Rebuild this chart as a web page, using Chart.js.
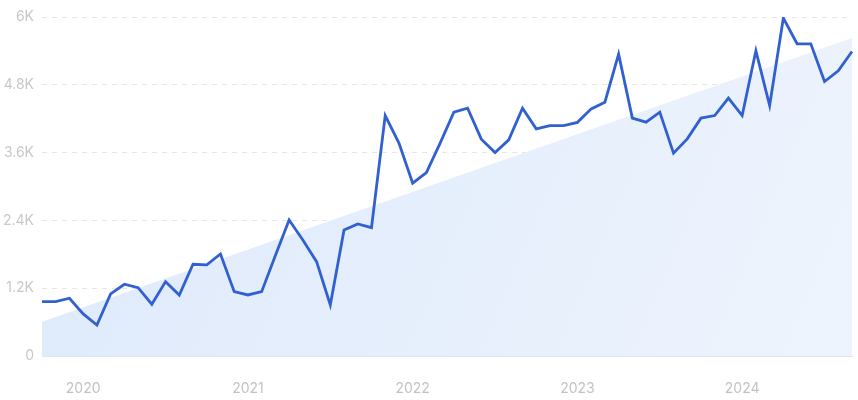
<!DOCTYPE html>
<html>
<head>
<meta charset="utf-8">
<script src="https://cdn.jsdelivr.net/npm/chart.js@4"></script>
<style>
  html, body { margin: 0; padding: 0; background: #fff; }
  #wrap { width: 858px; height: 400px; }
</style>
</head>
<body>
<div id="wrap"><canvas id="trendChart" width="858" height="400"></canvas></div>
<script>
// monthly points, Oct 2019 .. Sep 2024
const months = [
  '2019-10','2019-11','2019-12',
  '2020-01','2020-02','2020-03','2020-04','2020-05','2020-06','2020-07','2020-08','2020-09','2020-10','2020-11','2020-12',
  '2021-01','2021-02','2021-03','2021-04','2021-05','2021-06','2021-07','2021-08','2021-09','2021-10','2021-11','2021-12',
  '2022-01','2022-02','2022-03','2022-04','2022-05','2022-06','2022-07','2022-08','2022-09','2022-10','2022-11','2022-12',
  '2023-01','2023-02','2023-03','2023-04','2023-05','2023-06','2023-07','2023-08','2023-09','2023-10','2023-11','2023-12',
  '2024-01','2024-02','2024-03','2024-04','2024-05','2024-06','2024-07','2024-08','2024-09'
];
const searches = [
  962, 962, 1022,
  744, 549, 1098, 1270, 1210, 916, 1316, 1080, 1624, 1612, 1806, 1139,
  1080, 1139, 1780, 2409, 2054, 1670, 903, 2231, 2338, 2272, 4256, 3767,
  3059, 3246, 3767, 4316, 4387, 3838, 3601, 3825, 4387, 4020, 4079, 4079,
  4135, 4374, 4493, 5343, 4210, 4139, 4316, 3590, 3843, 4210, 4256, 4564,
  4256, 5402, 4433, 5981, 5526, 5526, 4858, 5047, 5389
];
// trend band end values (first and last month)
const trendStart = 607;
const trendEnd = 5627;
const yTicks = [0, 1200, 2400, 3600, 4800, 6000];
const yTickLabels = ['0', '1.2K', '2.4K', '3.6K', '4.8K', '6K'];

const ctx = document.getElementById('trendChart').getContext('2d');

function bandFill(context) {
  const area = context.chart.chartArea;
  if (!area) return '#e4eefc';
  const g = context.chart.ctx.createLinearGradient(area.left, area.top, area.right, area.bottom);
  g.addColorStop(0, '#dde9fb');
  g.addColorStop(1, '#eef4fd');
  return g;
}

new Chart(ctx, {
  type: 'line',
  data: {
    labels: months,
    datasets: [
      {
        label: 'Searches',
        data: searches,
        borderColor: '#3160d0',
        borderWidth: 2.8,
        pointRadius: 0,
        tension: 0,
        fill: false,
        order: 1
      },
      {
        label: 'Trend',
        data: [
          { x: months[0], y: trendStart },
          { x: months[months.length - 1], y: trendEnd }
        ],
        borderWidth: 0,
        borderColor: 'rgba(0,0,0,0)',
        backgroundColor: bandFill,
        pointRadius: 0,
        fill: 'origin',
        order: 2
      }
    ]
  },
  options: {
    responsive: false,
    animation: false,
    maintainAspectRatio: false,
    layout: { padding: { top: 17, right: 6, left: 0, bottom: 0 } },
    plugins: {
      legend: { display: false },
      tooltip: { enabled: false }
    },
    scales: {
      x: {
        type: 'category',
        offset: false,
        grid: { display: false, drawTicks: false },
        border: { display: true, color: '#dde6f4', width: 1 },
        ticks: {
          autoSkip: false,
          maxRotation: 0,
          padding: 24,
          color: '#c2c2c2',
          font: { family: 'Inter', size: 14 },
          callback: function (val, i) {
            const m = months[i];
            return m.endsWith('-01') ? m.slice(0, 4) : null;
          }
        },
        afterFit: (scale) => { scale.height = 44; }
      },
      y: {
        min: 0,
        max: 6000,
        afterBuildTicks: (scale) => { scale.ticks = yTicks.map(v => ({ value: v })); },
        grid: {
          color: (c) => c.tick && c.tick.value === 0 ? 'rgba(0,0,0,0)' : '#e6e6e6',
          drawTicks: false
        },
        border: { display: false, dash: [5, 5] },
        ticks: {
          padding: 8,
          color: '#c8c8c8',
          font: { family: 'Inter', size: 14 },
          callback: function (val) {
            const i = yTicks.indexOf(val);
            return i >= 0 ? yTickLabels[i] : '';
          }
        },
        afterFit: (scale) => { scale.width = 42; }
      }
    }
  }
});
</script>
</body>
</html>
